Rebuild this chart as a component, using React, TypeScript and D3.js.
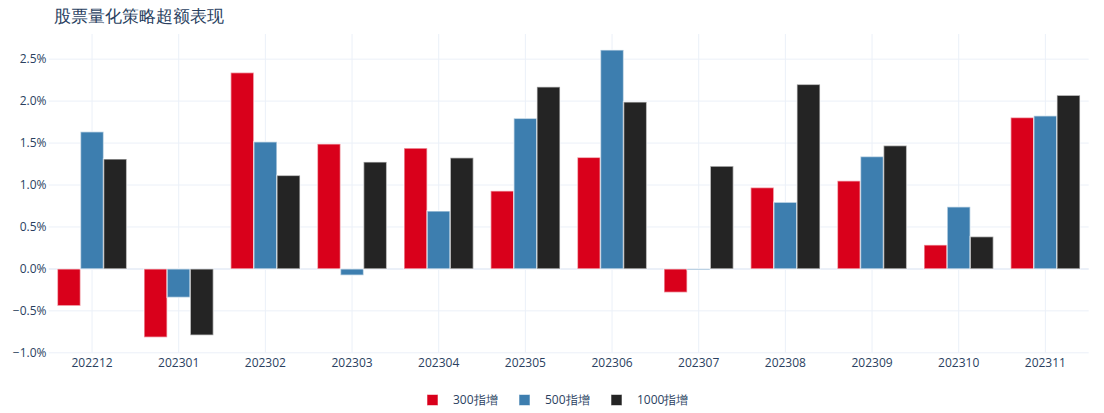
import React from "react";
import * as d3 from "d3";

const categories = ["202212","202301","202302","202303","202304","202305","202306","202307","202308","202309","202310","202311"];
const seriesNames = ["300指增","500指增","1000指增"];
const values300 = [-0.44,-0.815,2.34,1.49,1.44,0.93,1.33,-0.28,0.97,1.05,0.286,1.805];
const values500 = [1.635,-0.34,1.515,-0.075,0.69,1.795,2.61,-0.01,0.795,1.34,0.74,1.825];
const values1000 = [1.31,-0.79,1.115,1.275,1.325,2.17,1.99,1.225,2.20,1.47,0.385,2.07];
const yTicks = [-1.0,-0.5,0,0.5,1.0,1.5,2.0,2.5];
const colors = ["#d9001b","#3d7eaf","#242424"];

const W = 1104, H = 413;
const left = 48.7, right = 1088.7, top = 34, bottom = 352.8;
const FONT = "'Open Sans', verdana, arial, sans-serif";

export default function App() {
  const series = [values300, values500, values1000];
  const x = d3.scaleBand<string>().domain(categories).range([left, right]).paddingInner(0.2).paddingOuter(0.1);
  const x1 = d3.scaleBand<number>().domain([0,1,2]).range([0, x.bandwidth()]);
  const y = d3.scaleLinear().domain([-1.0, 2.8]).range([bottom, top]);
  const step = x.step();
  const fmt = (v: number) => (v < 0 ? "\u2212" : "") + Math.abs(v).toFixed(1) + "%";

  return (
    <svg width={W} height={H} style={{ position: "absolute", left: 0, top: 0, fontFamily: FONT }}>
      <rect x={0} y={0} width={W} height={H} fill="#fff" />
      {categories.map((c) => (
        <line key={"vg"+c} x1={x(c)! + x.bandwidth()/2} x2={x(c)! + x.bandwidth()/2} y1={top} y2={bottom} stroke="#EBF0F8" strokeWidth={1} />
      ))}
      {yTicks.map((t) => (
        <line key={"hg"+t} x1={left} x2={right} y1={y(t)} y2={y(t)} stroke="#EBF0F8" strokeWidth={t === 0 ? 2 : 1} />
      ))}
      {categories.map((c, i) => (
        <g key={"g"+c}>
          {series.map((s, k) => {
            const v = s[i];
            const y0 = y(0), yv = y(v);
            return (
              <rect key={k} x={x(c)! + x1(k)!} y={Math.min(y0, yv)} width={x1.bandwidth()} height={Math.max(Math.abs(yv - y0), 0.5)}
                fill={colors[k]} stroke="rgba(255,255,255,0.55)" strokeWidth={1.5} />
            );
          })}
        </g>
      ))}
      {yTicks.map((t) => (
        <text key={"yt"+t} x={46.5} y={y(t)} dy="0.35em" textAnchor="end" fontSize={12} fill="#2a3f5f">{fmt(t)}</text>
      ))}
      {categories.map((c) => (
        <text key={"xt"+c} x={x(c)! + x.bandwidth()/2} y={366.5} textAnchor="middle" fontSize={12} fill="#2a3f5f">{c}</text>
      ))}
      <text x={54} y={21.5} fontSize={16.5} fill="#2a3f5f">股票量化策略超额表现</text>
      {seriesNames.map((n, k) => {
        const lx = [427, 519, 611][k];
        return (
          <g key={"lg"+n}>
            <rect x={lx} y={394.5} width={11} height={11} fill={colors[k]} stroke="rgba(255,255,255,0.55)" strokeWidth={1} />
            <text x={lx + 26} y={400} dy="0.35em" fontSize={12} fill="#2a3f5f">{n}</text>
          </g>
        );
      })}
    </svg>
  );
}
